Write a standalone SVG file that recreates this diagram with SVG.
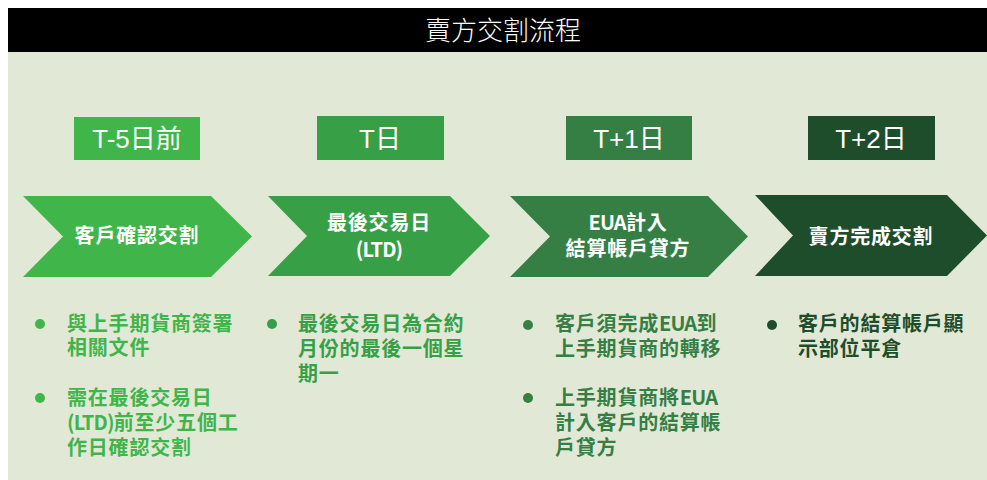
<svg xmlns="http://www.w3.org/2000/svg" width="987" height="480" viewBox="0 0 987 480">
<style>
.title{font-family:"Noto Sans CJK TC","Liberation Sans",sans-serif;font-size:26px;font-weight:300;fill:#fff;text-anchor:middle}
.lbl{font-family:"Liberation Sans","Noto Sans CJK TC",sans-serif;font-size:26px;fill:#fff;text-anchor:middle}
.chv{font-family:"Noto Sans CJK TC",sans-serif;font-size:20px;font-weight:700;fill:#fff;text-anchor:middle;letter-spacing:0.8px}
.bul{font-family:"Noto Sans CJK TC",sans-serif;font-size:20px;font-weight:700;letter-spacing:0.8px}
.lat{letter-spacing:-0.8px}
.c1{fill:#40B54A}.c2{fill:#37A047}.c3{fill:#357F45}.c4{fill:#1E4D2B}
</style>
<rect x="8" y="51" width="979" height="429" fill="#E2E8D6"/>
<rect x="8" y="8" width="979" height="44" fill="#000"/>
<text class="title" x="503" y="40">賣方交割流程</text>

<g id="step1">
<rect class="c1" x="74" y="117" width="126" height="43"/>
<text class="lbl" x="137" y="148">T-5日前</text>
<polygon class="c1" points="23,196 211,196 252,236.5 211,277 23,277 63,236.5"/>
<text class="chv" x="137" y="243">客戶確認交割</text>
<g class="c1">
<circle cx="40" cy="324" r="5"/>
<text class="bul"><tspan x="67" y="331">與上手期貨商簽署</tspan><tspan x="67" y="355">相關文件</tspan></text>
<circle cx="40" cy="398" r="5"/>
<text class="bul"><tspan x="67" y="405">需在最後交易日</tspan><tspan x="67" y="430"><tspan class="lat">(LTD)</tspan>前至少五個工</tspan><tspan x="67" y="455">作日確認交割</tspan></text>
</g>
</g>

<g id="step2">
<rect class="c2" x="317" y="116" width="127" height="44"/>
<text class="lbl" x="380" y="148">T日</text>
<polygon class="c2" points="268,196 450,196 490,236 450,276 268,276 307,236"/>
<text class="chv"><tspan x="379" y="230">最後交易日</tspan><tspan x="379" y="257" class="lat">(LTD)</tspan></text>
<g class="c2">
<circle cx="272" cy="324" r="5"/>
<text class="bul"><tspan x="298" y="331">最後交易日為合約</tspan><tspan x="298" y="356">月份的最後一個星</tspan><tspan x="298" y="381">期一</tspan></text>
</g>
</g>

<g id="step3">
<rect class="c3" x="566" y="116" width="126" height="44"/>
<text class="lbl" x="629" y="148">T+1日</text>
<polygon class="c3" points="510,196 708,196 748,236.5 708,277 510,277 550,236.5"/>
<text class="chv"><tspan x="628" y="230"><tspan class="lat">EUA</tspan>計入</tspan><tspan x="628" y="256">結算帳戶貸方</tspan></text>
<g class="c3">
<circle cx="528" cy="325" r="5"/>
<text class="bul"><tspan x="555" y="331">客戶須完成<tspan class="lat">EUA</tspan>到</tspan><tspan x="555" y="356">上手期貨商的轉移</tspan></text>
<circle cx="528" cy="398" r="5"/>
<text class="bul"><tspan x="555" y="405">上手期貨商將<tspan class="lat">EUA</tspan></tspan><tspan x="555" y="430">計入客戶的結算帳</tspan><tspan x="555" y="455">戶貸方</tspan></text>
</g>
</g>

<g id="step4">
<rect class="c4" x="808" y="116" width="127" height="44"/>
<text class="lbl" x="871" y="148">T+2日</text>
<polygon class="c4" points="755,195 947,195 987,235.5 947,276 755,276 793,235.5"/>
<text class="chv" x="871" y="244">賣方完成交割</text>
<g class="c4">
<circle cx="772" cy="325" r="5"/>
<text class="bul"><tspan x="798" y="331">客戶的結算帳戶顯</tspan><tspan x="798" y="356">示部位平倉</tspan></text>
</g>
</g>
<g id="connectors"/>
</svg>
